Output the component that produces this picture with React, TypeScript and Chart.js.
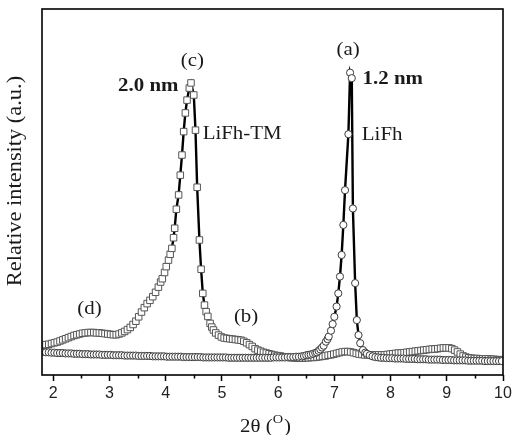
import React, { useEffect, useRef } from 'react';
import { Chart, registerables } from 'chart.js';

Chart.register(...registerables);

// LiFh-TM (squares): [2θ, relative intensity]
const lifhTmPoints: [number, number][] = [
  [1.82, 8.2], [1.87, 8.3], [1.92, 8.4], [1.97, 8.6], [2.02, 8.8], [2.07, 9.0], [2.12, 9.3], [2.17, 9.6],
  [2.22, 9.9], [2.27, 10.2], [2.32, 10.5], [2.37, 10.8], [2.42, 11.0], [2.47, 11.2], [2.52, 11.4], [2.57, 11.5],
  [2.62, 11.6], [2.67, 11.6], [2.72, 11.6], [2.77, 11.5], [2.82, 11.5], [2.87, 11.4], [2.92, 11.3], [2.97, 11.2],
  [3.02, 11.1], [3.07, 11.0], [3.12, 11.0], [3.17, 11.2], [3.22, 11.5], [3.27, 11.9], [3.32, 12.4], [3.37, 13.0],
  [3.42, 13.8], [3.47, 14.7], [3.52, 15.9], [3.57, 17.2], [3.62, 18.4], [3.67, 19.5], [3.72, 20.4], [3.77, 21.4],
  [3.82, 22.6], [3.87, 24.0], [3.91, 25.4], [3.94, 26.3], [3.98, 28.0], [4.01, 29.6], [4.05, 31.4], [4.08, 33.0],
  [4.11, 34.6], [4.14, 37.5], [4.16, 40.1], [4.19, 45.3], [4.23, 49.2], [4.26, 54.6], [4.29, 60.1], [4.32, 66.5],
  [4.35, 71.6], [4.38, 75.1], [4.42, 78.4], [4.45, 79.8], [4.50, 76.5], [4.53, 66.9], [4.56, 51.3], [4.60, 36.9],
  [4.63, 28.9], [4.66, 22.3], [4.69, 19.1], [4.72, 17.3], [4.75, 16.0], [4.79, 14.1], [4.82, 13.1], [4.85, 12.3],
  [4.89, 11.5], [4.94, 10.9], [4.99, 10.4], [5.04, 10.1], [5.09, 10.0], [5.14, 9.9], [5.19, 9.8], [5.24, 9.7],
  [5.29, 9.6], [5.34, 9.5], [5.39, 9.2], [5.44, 8.8], [5.49, 8.3], [5.54, 7.8], [5.59, 7.2], [5.64, 6.8],
  [5.69, 6.5], [5.74, 6.2], [5.79, 6.0], [5.84, 5.8], [5.89, 5.6], [5.94, 5.4], [5.99, 5.3], [6.04, 5.2],
  [6.09, 5.0], [6.14, 4.9], [6.19, 4.8], [6.24, 4.7], [6.29, 4.7], [6.34, 4.6], [6.39, 4.6], [6.44, 4.6],
  [6.49, 4.7], [6.54, 4.7], [6.59, 4.8], [6.64, 4.8], [6.69, 4.9], [6.74, 5.0], [6.79, 5.1], [6.84, 5.2],
  [6.89, 5.4], [6.94, 5.5], [6.99, 5.7], [7.04, 5.9], [7.09, 6.1], [7.14, 6.3], [7.19, 6.4], [7.24, 6.4],
  [7.29, 6.3], [7.34, 6.1], [7.39, 5.9], [7.44, 5.7], [7.49, 5.6], [7.54, 5.5], [7.59, 5.5], [7.64, 5.5],
  [7.69, 5.5], [7.74, 5.5], [7.79, 5.5], [7.84, 5.5], [7.89, 5.5], [7.94, 5.6], [7.99, 5.7], [8.04, 5.8],
  [8.09, 5.9], [8.14, 6.0], [8.19, 6.0], [8.24, 6.1], [8.29, 6.2], [8.34, 6.3], [8.39, 6.4], [8.44, 6.5],
  [8.49, 6.6], [8.54, 6.7], [8.59, 6.8], [8.64, 6.9], [8.69, 7.0], [8.74, 7.1], [8.79, 7.1], [8.84, 7.2],
  [8.89, 7.3], [8.94, 7.4], [8.99, 7.4], [9.04, 7.4], [9.09, 7.2], [9.14, 6.8], [9.19, 6.3], [9.24, 5.7],
  [9.29, 5.2], [9.34, 4.9], [9.39, 4.7], [9.44, 4.6], [9.49, 4.5], [9.54, 4.5], [9.59, 4.4], [9.64, 4.4],
  [9.69, 4.4], [9.74, 4.4], [9.79, 4.3], [9.84, 4.3], [9.89, 4.2], [9.94, 4.2], [9.99, 4.1],
];

// LiFh (circles): [2θ, relative intensity]
const lifhPoints: [number, number][] = [
  [1.82, 6.3], [1.87, 6.2], [1.92, 6.2], [1.97, 6.1], [2.02, 6.1], [2.07, 6.0], [2.12, 6.0], [2.17, 6.0],
  [2.22, 5.9], [2.27, 5.9], [2.32, 5.9], [2.37, 5.8], [2.42, 5.8], [2.47, 5.8], [2.52, 5.7], [2.57, 5.7],
  [2.62, 5.7], [2.67, 5.6], [2.72, 5.6], [2.77, 5.6], [2.82, 5.6], [2.87, 5.5], [2.92, 5.5], [2.97, 5.5],
  [3.02, 5.5], [3.07, 5.4], [3.12, 5.4], [3.17, 5.4], [3.22, 5.4], [3.27, 5.3], [3.32, 5.3], [3.37, 5.3],
  [3.42, 5.3], [3.47, 5.3], [3.52, 5.2], [3.57, 5.2], [3.62, 5.2], [3.67, 5.2], [3.72, 5.2], [3.77, 5.1],
  [3.82, 5.1], [3.87, 5.1], [3.92, 5.1], [3.97, 5.1], [4.02, 5.0], [4.07, 5.0], [4.12, 5.0], [4.17, 5.0],
  [4.22, 5.0], [4.27, 5.0], [4.32, 4.9], [4.37, 4.9], [4.42, 4.9], [4.47, 4.9], [4.52, 4.9], [4.57, 4.9],
  [4.62, 4.9], [4.67, 4.8], [4.72, 4.8], [4.77, 4.8], [4.82, 4.8], [4.87, 4.8], [4.92, 4.8], [4.97, 4.8],
  [5.02, 4.8], [5.07, 4.8], [5.12, 4.7], [5.17, 4.7], [5.22, 4.7], [5.27, 4.7], [5.32, 4.7], [5.37, 4.7],
  [5.42, 4.7], [5.47, 4.7], [5.52, 4.7], [5.57, 4.7], [5.62, 4.7], [5.67, 4.7], [5.72, 4.7], [5.77, 4.7],
  [5.82, 4.7], [5.87, 4.7], [5.92, 4.8], [5.97, 4.8], [6.02, 4.8], [6.07, 4.8], [6.12, 4.8], [6.17, 4.9],
  [6.22, 4.9], [6.27, 4.9], [6.32, 5.0], [6.37, 5.0], [6.42, 5.1], [6.46, 5.2], [6.50, 5.4], [6.54, 5.5],
  [6.58, 5.6], [6.62, 5.8], [6.66, 6.0], [6.69, 6.2], [6.72, 6.6], [6.75, 7.0], [6.78, 7.5], [6.81, 8.0],
  [6.85, 9.1], [6.88, 9.8], [6.90, 10.5], [6.94, 12.1], [6.97, 13.9], [7.00, 15.9], [7.04, 18.7], [7.07, 22.3],
  [7.10, 26.9], [7.13, 32.8], [7.16, 41.0], [7.19, 50.5], [7.25, 65.8], [7.28, 82.6], [7.31, 81.1], [7.33, 45.5],
  [7.37, 25.1], [7.40, 15.0], [7.43, 10.9], [7.46, 8.7], [7.51, 6.8], [7.55, 6.1], [7.58, 5.8], [7.63, 5.4],
  [7.68, 5.1], [7.73, 4.9], [7.78, 4.8], [7.83, 4.7], [7.88, 4.7], [7.93, 4.6], [7.98, 4.6], [8.03, 4.6],
  [8.08, 4.5], [8.13, 4.5], [8.18, 4.5], [8.23, 4.5], [8.28, 4.4], [8.33, 4.4], [8.38, 4.4], [8.43, 4.4],
  [8.48, 4.3], [8.53, 4.3], [8.58, 4.3], [8.63, 4.3], [8.68, 4.2], [8.73, 4.2], [8.78, 4.2], [8.83, 4.2],
  [8.88, 4.2], [8.93, 4.1], [8.98, 4.1], [9.03, 4.1], [9.08, 4.1], [9.13, 4.0], [9.18, 4.0], [9.23, 4.0],
  [9.28, 4.0], [9.33, 4.0], [9.38, 3.9], [9.43, 3.9], [9.48, 3.9], [9.53, 3.9], [9.58, 3.9], [9.63, 3.9],
  [9.68, 3.8], [9.73, 3.8], [9.78, 3.8], [9.83, 3.8], [9.88, 3.8], [9.93, 3.8], [9.98, 3.8],
];

const seriesNames = ['LiFh', 'LiFh-TM'];
const xMajorTicks = [2, 3, 4, 5, 6, 7, 8, 9, 10];
const xMinorTicks = [2.5, 3.5, 4.5, 5.5, 6.5, 7.5, 8.5, 9.5];
const xRange = [1.8, 10];
const yRange = [0, 100];
const yTitle = 'Relative intensity (a.u.)';
const xTitleParts = ['2θ (', 'O', ')'];

// Text annotations anchored in data coordinates
const annotations = [
  { text: '(c)', x: 4.474, y: 85.8, bold: false },
  { text: '2.0 nm', x: 3.69, y: 79.0, bold: true },
  { text: 'LiFh-TM', x: 5.36, y: 65.8, bold: false },
  { text: '(a)', x: 7.245, y: 88.8, bold: false },
  { text: '1.2 nm', x: 8.04, y: 80.8, bold: true },
  { text: 'LiFh', x: 7.85, y: 65.6, bold: false },
  { text: '(d)', x: 2.645, y: 18.0, bold: false },
  { text: '(b)', x: 5.43, y: 15.8, bold: false },
];

const SERIF = '"Liberation Serif", "Times New Roman", serif';
const STRETCH = 1.1;

function drawStretched(ctx: CanvasRenderingContext2D, text: string, cx: number, cy: number, font: string, sx: number) {
  ctx.save();
  ctx.translate(cx, cy);
  ctx.scale(sx, 1);
  ctx.font = font;
  ctx.textAlign = 'center';
  ctx.textBaseline = 'middle';
  ctx.fillText(text, 0, 0);
  ctx.restore();
}

const overlayPlugin = {
  id: 'overlay',
  afterDatasetsDraw(chart: any) {
    const { ctx, chartArea: a, scales } = chart;
    const xs = scales.x;
    const ys = scales.y;
    ctx.save();
    ctx.strokeStyle = '#000';
    ctx.lineWidth = 1.6;
    ctx.strokeRect(a.left, a.top, a.right - a.left, a.bottom - a.top);

    // minor ticks (shorter than the major ones drawn by the axis)
    ctx.lineWidth = 1.5;
    ctx.beginPath();
    for (const v of xMinorTicks) {
      const px = Math.round(xs.getPixelForValue(v)) + 0.5;
      ctx.moveTo(px, a.bottom);
      ctx.lineTo(px, a.bottom + 3.5);
    }
    ctx.stroke();

    ctx.fillStyle = '#1a1a1a';
    for (const an of annotations) {
      const font = `${an.bold ? 'bold ' : ''}19px ${SERIF}`;
      drawStretched(ctx, an.text, xs.getPixelForValue(an.x), ys.getPixelForValue(an.y), font, STRETCH);
    }

    // Y title
    ctx.save();
    ctx.translate(16, 181);
    ctx.rotate(-Math.PI / 2);
    drawStretched(ctx, yTitle, 0, 0, `20px ${SERIF}`, 1.12);
    ctx.restore();

    // X title with superscript
    ctx.save();
    const mainFont = `19px ${SERIF}`;
    const supFont = `13px ${SERIF}`;
    ctx.font = mainFont;
    const w1 = ctx.measureText(xTitleParts[0]).width * STRETCH;
    const w3 = ctx.measureText(xTitleParts[2]).width * STRETCH;
    ctx.font = supFont;
    const w2 = ctx.measureText(xTitleParts[1]).width * STRETCH;
    const total = w1 + w2 + w3 + 1;
    const cx = (a.left + a.right) / 2 - 7;
    let x0 = cx - total / 2;
    const yb = 427;
    drawStretched(ctx, xTitleParts[0], x0 + w1 / 2, yb, mainFont, STRETCH);
    x0 += w1;
    drawStretched(ctx, xTitleParts[1], x0 + w2 / 2, yb - 7, supFont, STRETCH);
    x0 += w2 + 1;
    drawStretched(ctx, xTitleParts[2], x0 + w3 / 2, yb, mainFont, STRETCH);
    ctx.restore();

    ctx.restore();
  },
};

export default function App() {
  const canvasRef = useRef<HTMLCanvasElement | null>(null);

  useEffect(() => {
    const canvas = canvasRef.current;
    if (!canvas) return;
    const chart = new Chart(canvas, {
      type: 'line',
      data: {
        datasets: [
          {
            label: seriesNames[0],
            data: lifhPoints.map(([x, y]) => ({ x, y })),
            borderColor: '#000',
            borderWidth: 2.4,
            pointStyle: 'circle',
            pointRadius: 3.6,
            pointBorderWidth: 1,
            pointBorderColor: '#3a3a3a',
            pointBackgroundColor: '#fff',
            tension: 0,
            clip: 0,
          },
          {
            label: seriesNames[1],
            data: lifhTmPoints.map(([x, y]) => ({ x, y })),
            borderColor: '#000',
            borderWidth: 2.4,
            pointStyle: 'rect',
            pointRadius: 4.6,
            pointBorderWidth: 1,
            pointBorderColor: '#555',
            pointBackgroundColor: '#fff',
            tension: 0,
            clip: 0,
          },
        ],
      },
      options: {
        animation: false,
        responsive: false,
        devicePixelRatio: 1,
        layout: { padding: { left: 42, right: 10, top: 9, bottom: 0 } },
        plugins: {
          legend: { display: false },
          tooltip: { enabled: false },
        },
        scales: {
          x: {
            type: 'linear',
            min: xRange[0],
            max: xRange[1],
            afterBuildTicks: (s: any) => {
              s.ticks = xMajorTicks.map((v) => ({ value: v }));
            },
            afterFit: (s: any) => {
              s.height = 60;
              s.paddingLeft = 0;
              s.paddingRight = 0;
            },
            grid: {
              drawOnChartArea: false,
              drawTicks: true,
              tickLength: 6,
              tickColor: '#000',
              tickWidth: 1.5,
            },
            border: { display: false },
            ticks: {
              callback: (v: any) => String(v),
              font: { family: '"Liberation Sans", Arial, sans-serif', size: 16 },
              color: '#222',
              padding: 3,
              maxRotation: 0,
              autoSkip: false,
            },
          },
          y: {
            display: false,
            min: yRange[0],
            max: yRange[1],
          },
        },
      },
      plugins: [overlayPlugin],
    });
    return () => chart.destroy();
  }, []);

  return (
    <div style={{ position: 'fixed', left: 0, top: 0, width: 513, height: 435, background: '#fff' }}>
      <canvas ref={canvasRef} width={513} height={435} style={{ display: 'block' }} />
    </div>
  );
}
